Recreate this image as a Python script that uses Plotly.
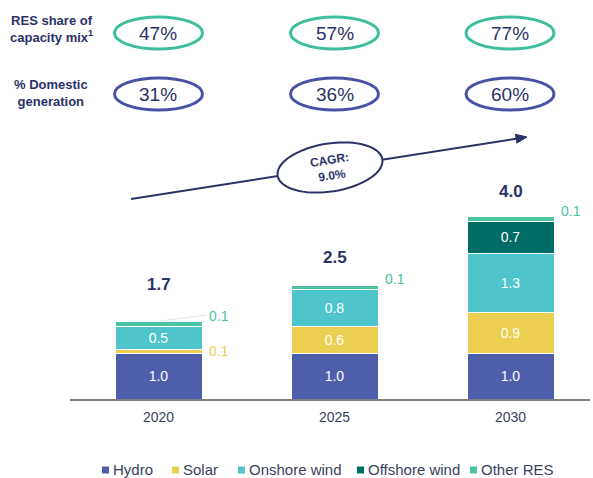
import math
import plotly.graph_objects as go

# ---------------- data ----------------
years = ["2020", "2025", "2030"]
series_names = ["Hydro", "Solar", "Onshore wind", "Offshore wind", "Other RES"]
hydro = [1.0, 1.0, 1.0]
solar = [0.1, 0.6, 0.9]
onshore = [0.5, 0.8, 1.3]
offshore = [0.0, 0.0, 0.7]
other_res = [0.1, 0.1, 0.1]
totals = [1.7, 2.5, 4.0]
res_share = ["47%", "57%", "77%"]
domestic_gen = ["31%", "36%", "60%"]
cagr_text = "CAGR:<br>9.0%"

# ---------------- styles ----------------
W, H = 593, 478
colors = ["#4F5EAB", "#ECCF51", "#4EC4CC", "#016B66", "#4CC2A4"]
navy = "#2B3266"
teal_ring = "#3DBF9E"
blue_ring = "#4A52A6"
FONT = "Liberation Sans, Arial, sans-serif"

base_px = 399.3          # pixel row of the x axis
px_per_unit = 45.7       # vertical scale
bar_centers_px = [158.5, 334.5, 510.0]
spacing_px = 176.0
x_dom = (70 / W, 590 / W)
x_range = [-(bar_centers_px[0] - 70) / spacing_px,
           -(bar_centers_px[0] - 70) / spacing_px + (590 - 70) / spacing_px]
bar_width = 87 / spacing_px


def X(px):
    return px / W


def Y(py):
    return 1 - py / H


fig = go.Figure()
all_series = [hydro, solar, onshore, offshore, other_res]
for name, vals, col in zip(series_names, all_series, colors):
    fig.add_trace(go.Bar(
        x=years, y=vals, name=name, width=bar_width,
        marker=dict(color=col, line=dict(color="white", width=1)),
        text=[f"{v:.1f}" if v >= 0.5 else None for v in vals],
        textposition="inside", insidetextanchor="middle",
        textfont=dict(color="white", size=14, family=FONT),
        constraintext="none", hoverinfo="skip", showlegend=False,
    ))

annotations = []
shapes = []

# totals above bars
total_offsets_px = [37, 28, 25]
for yi, (t, off) in enumerate(zip(totals, total_offsets_px)):
    annotations.append(dict(
        x=yi, y=t, xref="x", yref="y", text=f"<b>{t:.1f}</b>",
        showarrow=False, yshift=off, yanchor="middle",
        font=dict(size=17, color=navy, family=FONT)))

# small outside labels for thin segments
for si, vals in enumerate(all_series):
    for yi, v in enumerate(vals):
        if 0 < v < 0.5:
            below = sum(s[yi] for s in all_series[:si])
            mid = below + v / 2
            ysh = 8 if si == 4 else 0
            annotations.append(dict(
                x=yi + bar_width / 2, y=mid, xref="x", yref="y",
                text=f"{v:.1f}", showarrow=False, xanchor="left",
                xshift=5, yshift=ysh, yanchor="middle",
                font=dict(size=14, color=colors[si], family=FONT)))

# faint leader line for 2020 Other RES label
shapes.append(dict(type="line", xref="paper", yref="paper",
                   x0=X(160), y0=Y(321), x1=X(206), y1=Y(315),
                   line=dict(color="#E6E6E6", width=1)))

# top KPI rows
row_specs = [
    (res_share, teal_ring, 33, "RES share of<br>capacity mix<sup>1</sup>", 29),
    (domestic_gen, blue_ring, 94, "% Domestic<br>generation", 93),
]
for labels, ring, cy, title, ty in row_specs:
    annotations.append(dict(
        x=X(51), y=Y(ty), xref="paper", yref="paper", text=f"<b>{title}</b>",
        showarrow=False, align="center", xanchor="center", yanchor="middle",
        font=dict(size=13, color=navy, family=FONT)))
    for cx, lab in zip(bar_centers_px, labels):
        shapes.append(dict(type="circle", xref="paper", yref="paper",
                           x0=X(cx - 44), x1=X(cx + 44), y0=Y(cy + 16), y1=Y(cy - 16),
                           line=dict(color=ring, width=3), fillcolor="white"))
        annotations.append(dict(
            x=X(cx), y=Y(cy), xref="paper", yref="paper", text=lab,
            showarrow=False, xanchor="center", yanchor="middle",
            font=dict(size=19, color=navy, family=FONT)))

# CAGR arrow with rotated ellipse
sx, sy, ex, ey = 131, 199, 527, 137
ang = math.atan2(sy - ey, ex - sx)
cx, cy = 330, 167.5
a, b = 53, 24
shapes.append(dict(type="line", xref="paper", yref="paper",
                   x0=X(sx), y0=Y(sy), x1=X(ex - 8 * math.cos(ang)), y1=Y(ey + 8 * math.sin(ang)),
                   line=dict(color=navy, width=2)))
pts = []
for k in range(73):
    t = 2 * math.pi * k / 72
    lx, ly = a * math.cos(t), b * math.sin(t)
    px = cx + lx * math.cos(ang) + ly * math.sin(ang)
    py = cy - lx * math.sin(ang) + ly * math.cos(ang)
    pts.append(f"{X(px):.5f},{Y(py):.5f}")
shapes.append(dict(type="path", xref="paper", yref="paper",
                   path="M" + " L".join(pts) + " Z",
                   line=dict(color=navy, width=2), fillcolor="white"))
# arrow head
hl, hw = 11, 4.5
bx, by = ex - hl * math.cos(ang), ey + hl * math.sin(ang)
nx, ny = math.sin(ang), math.cos(ang)
head = [(ex, ey), (bx + hw * nx, by + hw * ny), (bx - hw * nx, by - hw * ny)]
shapes.append(dict(type="path", xref="paper", yref="paper",
                   path="M" + " L".join(f"{X(p[0]):.5f},{Y(p[1]):.5f}" for p in head) + " Z",
                   line=dict(color=navy, width=1), fillcolor=navy))
annotations.append(dict(
    x=X(cx), y=Y(cy), xref="paper", yref="paper", text=f"<b>{cagr_text}</b>",
    showarrow=False, textangle=-math.degrees(ang), xanchor="center", yanchor="middle",
    font=dict(size=12, color=navy, family=FONT)))

# manual legend
legend_x_px = [102, 172, 238, 357, 470]
leg_y = 469
for name, col, lx in zip(series_names, colors, legend_x_px):
    shapes.append(dict(type="rect", xref="paper", yref="paper",
                       x0=X(lx), x1=X(lx + 7), y0=Y(leg_y + 4.5), y1=Y(leg_y - 2.5),
                       line=dict(width=0), fillcolor=col))
    annotations.append(dict(
        x=X(lx + 10), y=Y(leg_y), xref="paper", yref="paper", text=name,
        showarrow=False, xanchor="left", yanchor="middle", borderpad=0,
        font=dict(size=15, color="#3A3F5C", family=FONT)))

fig.update_layout(
    width=W, height=H, barmode="stack",
    margin=dict(l=0, r=0, t=0, b=0),
    paper_bgcolor="white", plot_bgcolor="white",
    showlegend=False,
    xaxis=dict(domain=list(x_dom), range=x_range, type="category",
               showline=True, linecolor="#7F7F7F", linewidth=1.5,
               ticks="outside", ticklen=4, tickcolor="rgba(0,0,0,0)",
               tickfont=dict(size=14, color="#3A3F5C", family=FONT),
               showgrid=False, zeroline=False, fixedrange=True),
    yaxis=dict(domain=[1 - base_px / H, 1], range=[0, base_px / px_per_unit],
               visible=False, fixedrange=True),
    shapes=shapes, annotations=annotations,
    font=dict(family=FONT),
)

fig.write_html("out.html", config={"displayModeBar": False},
               post_script="document.body.style.margin='0';document.body.style.overflow='hidden';")
